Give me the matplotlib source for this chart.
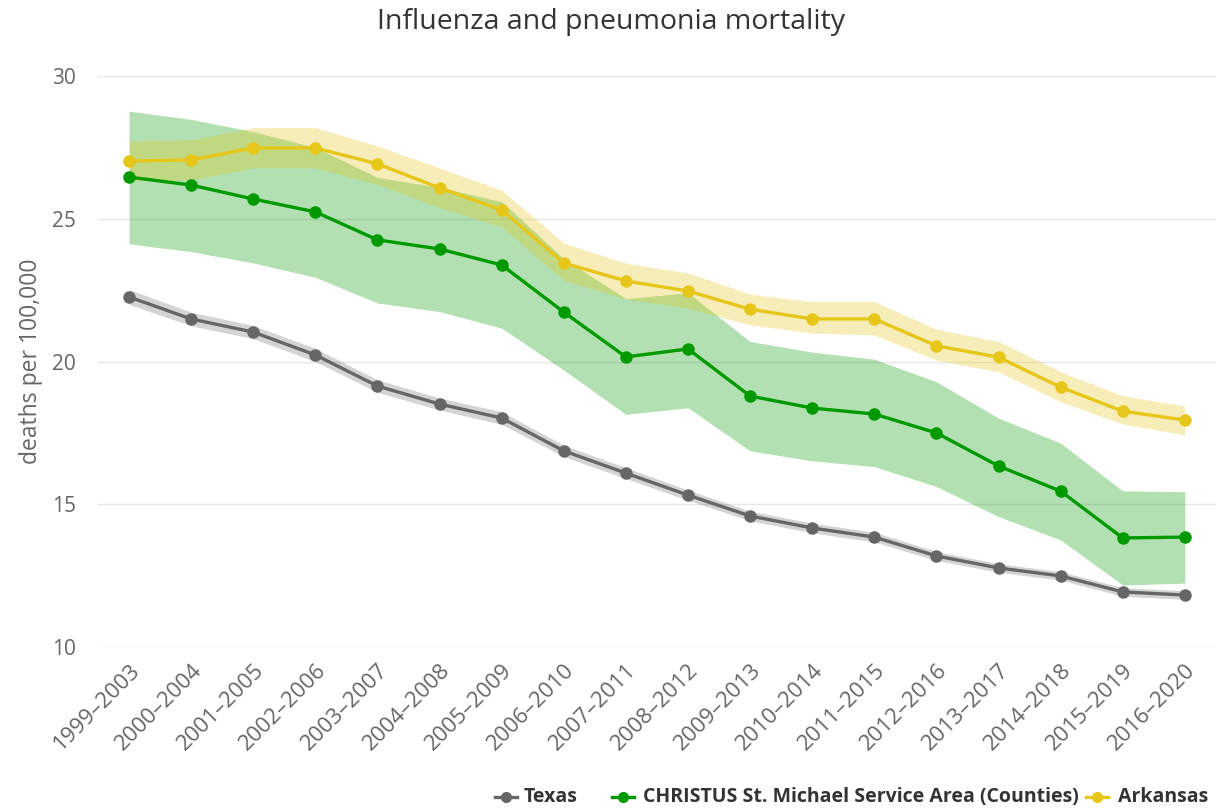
import matplotlib
matplotlib.use("Agg")
import matplotlib.pyplot as plt
from matplotlib.lines import Line2D

plt.rcParams['font.family'] = ['Open Sans', 'DejaVu Sans']

periods = ["1999–2003", "2000–2004", "2001–2005", "2002–2006", "2003–2007",
           "2004–2008", "2005–2009", "2006–2010", "2007–2011", "2008–2012",
           "2009–2013", "2010–2014", "2011–2015", "2012–2016", "2013–2017",
           "2014–2018", "2015–2019", "2016–2020"]

texas = [22.26, 21.49, 21.03, 20.23, 19.14, 18.51, 18.02, 16.87, 16.09, 15.32,
         14.59, 14.17, 13.85, 13.19, 12.77, 12.49, 11.93, 11.82]
texas_low = [22.00, 21.25, 20.80, 20.00, 18.92, 18.30, 17.80, 16.67, 15.90, 15.14,
             14.42, 14.00, 13.68, 13.03, 12.62, 12.34, 11.78, 11.67]
texas_high = [22.52, 21.73, 21.26, 20.46, 19.36, 18.72, 18.24, 17.07, 16.28, 15.50,
              14.76, 14.34, 14.02, 13.35, 12.92, 12.64, 12.08, 11.97]

christus = [26.46, 26.18, 25.69, 25.24, 24.26, 23.94, 23.38, 21.73, 20.16, 20.44,
            18.79, 18.37, 18.16, 17.50, 16.34, 15.46, 13.82, 13.85]
christus_low = [24.12, 23.85, 23.45, 22.95, 22.05, 21.75, 21.17, 19.70, 18.15, 18.38,
                16.87, 16.52, 16.32, 15.62, 14.57, 13.75, 12.17, 12.24]
christus_high = [28.77, 28.48, 28.05, 27.50, 26.45, 26.10, 25.60, 23.60, 22.20, 22.41,
                 20.70, 20.33, 20.08, 19.29, 18.02, 17.14, 15.47, 15.44]

arkansas = [27.02, 27.06, 27.48, 27.48, 26.92, 26.08, 25.31, 23.45, 22.82, 22.47,
            21.83, 21.49, 21.49, 20.55, 20.15, 19.10, 18.26, 17.95]
arkansas_low = [26.32, 26.36, 26.78, 26.78, 26.20, 25.40, 24.72, 22.85, 22.19, 21.87,
                21.28, 21.00, 20.93, 20.05, 19.64, 18.59, 17.81, 17.43]
arkansas_high = [27.72, 27.76, 28.19, 28.19, 27.55, 26.78, 26.00, 24.15, 23.44, 23.10,
                 22.36, 22.10, 22.10, 21.13, 20.70, 19.64, 18.80, 18.44]

series = [
    ("Texas", texas, texas_low, texas_high, "#666666", 0.28),
    ("CHRISTUS St. Michael Service Area (Counties)", christus, christus_low,
     christus_high, "#009900", 0.3),
    ("Arkansas", arkansas, arkansas_low, arkansas_high, "#e6c619", 0.3),
]

W, H = 1222, 810
fig = plt.figure(figsize=(W / 100, H / 100), dpi=100)
ax = fig.add_axes([0.0802, 0.2012, 0.9148, 0.7050])

x = list(range(len(periods)))
for i, (name, vals, lo, hi, color, alpha) in enumerate(series):
    ax.fill_between(x, lo, hi, color=color, alpha=alpha, linewidth=0, zorder=2 + i)
for i, (name, vals, lo, hi, color, alpha) in enumerate(series):
    ax.plot(x, vals, color=color, linewidth=2.4, marker="o",
            markersize=9, markeredgewidth=0, zorder=10 + i, label=name)

ax.set_xlim(-0.5, len(periods) - 0.5)
ax.set_ylim(10, 30)
ax.set_yticks([10, 15, 20, 25, 30])
ax.set_xticks(x)
ax.set_xticklabels(periods, rotation=45, ha="right", va="top",
                   rotation_mode="anchor", fontsize=16, color="#666666")
ax.tick_params(axis="x", length=0, pad=9)
ax.tick_params(axis="y", length=0, pad=16, labelsize=15, labelcolor="#666666")

for yv in [15, 20, 25, 30]:
    ax.axhline(yv, color="#e6e6e6", linewidth=1, zorder=1)
ax.axhline(10, color="#ccd6eb", linewidth=1, zorder=1)
for s in ax.spines.values():
    s.set_visible(False)

ax.set_ylabel("deaths per 100,000", fontsize=16.5, color="#666666", labelpad=6)

fig.text(0.5, 0.973, "Influenza and pneumonia mortality", ha="center", va="center",
         fontsize=20.5, color="#333333")

# Legend row along the bottom right: symbol start, text start (in pixels)
legend_slots = [(495, 524), (612, 643), (1086, 1118)]
legend_y = 1 - 797 / H
for (name, vals, lo, hi, color, alpha), (sx, tx) in zip(series, legend_slots):
    fig.add_artist(Line2D([sx / W, (sx + 22) / W], [legend_y, legend_y],
                          transform=fig.transFigure, color=color, linewidth=2.4))
    fig.add_artist(Line2D([(sx + 11) / W], [legend_y], transform=fig.transFigure,
                          color=color, marker="o", markersize=8, markeredgewidth=0))
    fig.text(tx / W, legend_y, name, ha="left", va="center", fontsize=14,
             fontweight="bold", color="#333333")

fig.savefig("out.png", dpi=100, facecolor="white")
